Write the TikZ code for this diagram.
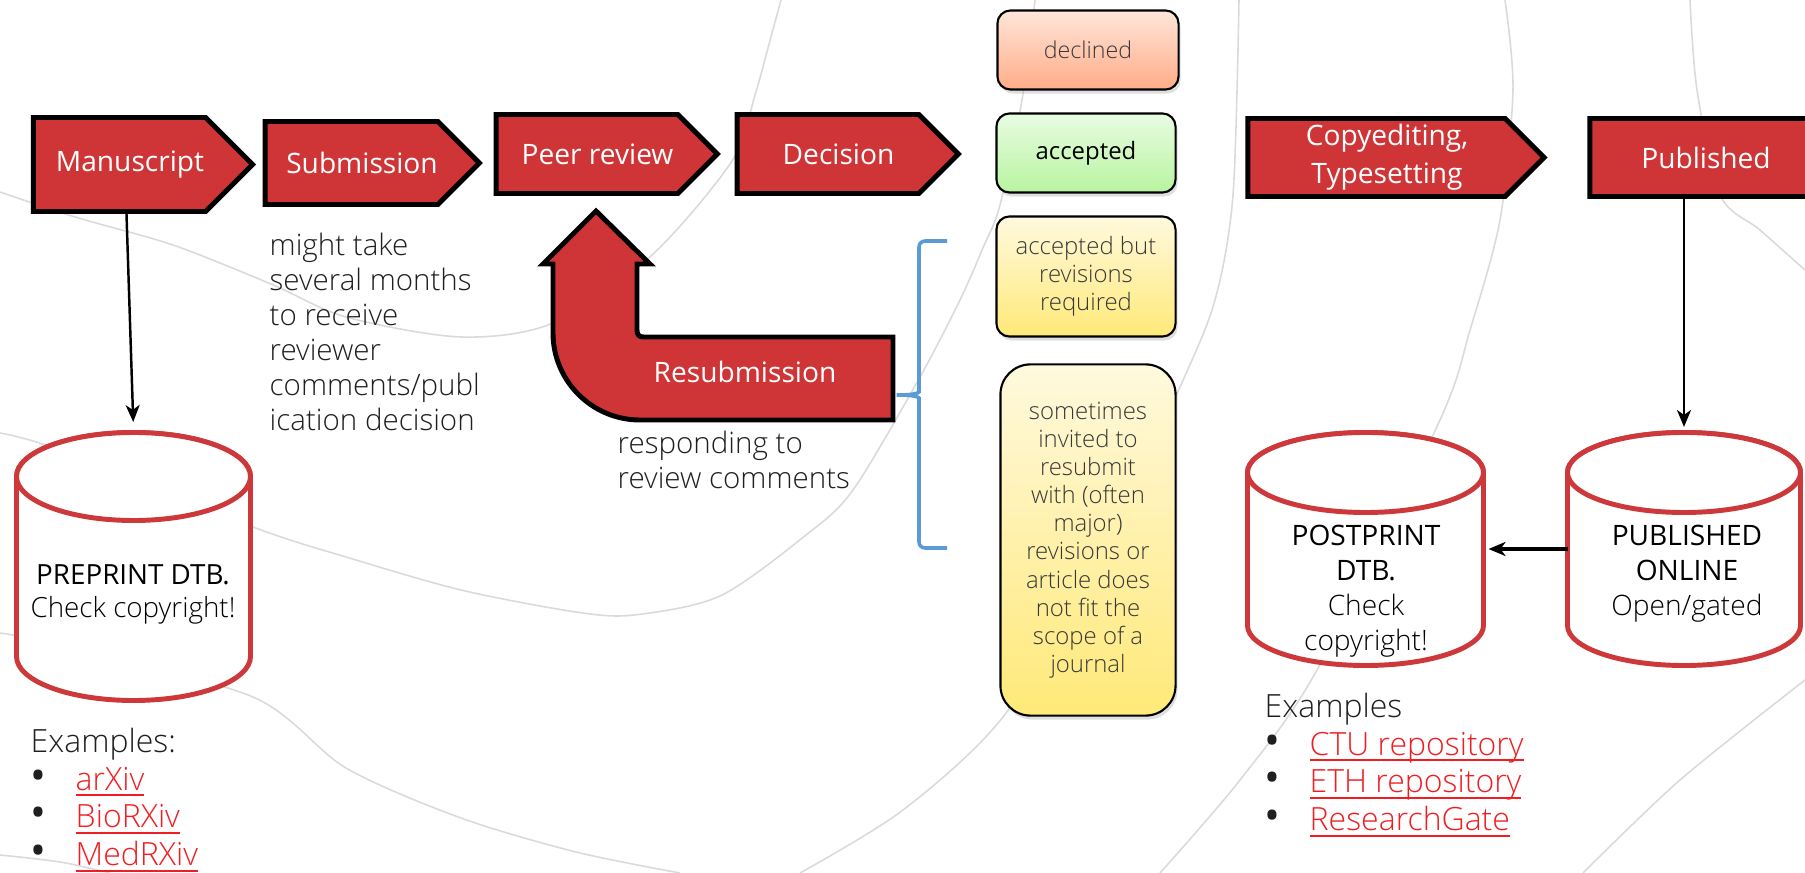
\documentclass[tikz,border=0pt]{standalone}
\usepackage{fontspec}
\setmainfont{Open Sans}
\newfontfamily\lightfont{Open Sans Light}
\usetikzlibrary{arrows.meta,shapes.symbols,shadows}

\definecolor{boxred}{RGB}{207,53,55}
\definecolor{dbred}{RGB}{205,56,58}
\definecolor{linkred}{RGB}{240,30,34}
\definecolor{bracecol}{RGB}{91,155,213}
\definecolor{bggrey}{RGB}{218,218,218}

\newcommand{\reflink}[1]{{\color{linkred}\underline{\smash{#1}}}}
\newcommand{\bul}{\makebox[0.45cm][l]{\normalfont\fontsize{12}{11}\selectfont\textbullet}}
\newcommand{\nudge}{\hspace*{0.21cm}}

\tikzset{
  stage/.style   = {signal, signal to=east, signal pointer angle=90, draw=black,
                    line width=1.4pt, fill=boxred, text=white, align=center,
                    inner sep=0pt, font=\fontsize{8}{10.8}\selectfont},
  outcome/.style = {rectangle, rounded corners=0.13cm, draw=black, line width=0.6pt,
                    align=center, text=black!78, inner sep=0pt,
                    font=\lightfont\fontsize{6.8}{8}\selectfont,
                    drop shadow={shadow xshift=0.02cm, shadow yshift=-0.04cm, opacity=0.25}},
  dbline/.style  = {draw=dbred, line width=1.4pt, fill=white},
  dbtext/.style  = {align=center, inner sep=0pt, font=\fontsize{8}{10}\selectfont},
  note/.style    = {align=left, inner sep=0pt, anchor=north west, text=black!88,
                    font=\lightfont\fontsize{8.4}{10}\selectfont},
  flow/.style    = {-{Stealth[length=0.17cm, width=0.14cm, inset=0.05cm]}, line width=0.7pt},
  bgline/.style  = {bggrey, line width=0.45pt},
}

\begin{document}
\begin{tikzpicture}[x=0.01cm, y=-0.01cm]
  \useasboundingbox (0,0) rectangle (1805,873);

  % faint background curves
  \draw[bgline] plot[smooth] coordinates {(0,192) (75,217) (173,245) (271,284) (346,317)
      (461,337) (553,323) (651,256) (732,161) (755,95) (772,33) (781,0)};
  \draw[bgline] plot[smooth] coordinates {(0,433) (60,450) (253,527) (346,557) (461,590)
      (576,612) (634,615) (720,596) (806,535) (853,490) (920,377) (960,300) (982,250)
      (1000,205) (1022,100) (1035,0)};
  \draw[bgline] plot[smooth] coordinates {(0,633) (60,645) (253,697) (346,768) (461,818)
      (576,852) (680,873)};
  \draw[bgline] plot[smooth] coordinates {(1239,0) (1233,195) (1215,300) (1180,387)
      (1100,560) (1003,717) (903,810) (800,873)};
  \draw[bgline] plot[smooth] coordinates {(1505,0) (1513,90) (1500,220) (1470,330)
      (1440,420) (1317,670) (1240,780) (1160,873)};
  \draw[bgline] plot[smooth] coordinates {(1690,0) (1697,90) (1720,195) (1760,230) (1805,270)};
  \draw[bgline] plot[smooth] coordinates {(1583,873) (1680,780) (1805,680)};
  \draw[bgline] plot[smooth] coordinates {(0,855) (60,862) (110,873)};

  % main flow
  \node[stage, minimum width=2.19cm, minimum height=0.94cm] (manu) at (119.5,164.5) {\nudge Manuscript};
  \node[stage, minimum width=2.14cm, minimum height=0.83cm] (sub)  at (351.5,163) {\nudge Submission};
  \node[stage, minimum width=2.21cm, minimum height=0.79cm] (peer) at (587,154)   {\nudge Peer review};
  \node[stage, minimum width=2.21cm, minimum height=0.79cm] (dec)  at (828,154)   {\nudge Decision};
  \node[stage, minimum width=2.96cm, minimum height=0.78cm] (copy) at (1376.5,157.5) {\nudge Copyediting,\\\nudge Typesetting};
  \node[stage, minimum width=2.71cm, minimum height=0.78cm] (pub)  at (1706,157.5) {Published};

  % resubmission loop
  \draw[line width=1.4pt, fill=boxred] (596,211) -- (650,264) -- (637,264) -- (637,330)
      .. controls (637,335) and (639,337) .. (644,337) -- (893,337) -- (893,420) -- (640,420)
      .. controls (592,420) and (553,381) .. (553,333) -- (553,264) -- (543,264) -- cycle;
  \node[text=white, font=\fontsize{8}{10}\selectfont] (resub) at (745,372) {Resubmission};
  \coordinate (bracetip) at (893,395);
  \draw[bracecol, line width=1pt, rounded corners=0.06cm] (947,241) -- (919,241) -- (919,386)
      .. controls (919,393) and (912,395) .. (bracetip)
      .. controls (912,395) and (919,397) .. (919,404) -- (919,548) -- (947,548);

  % decision outcomes
  \node[outcome, top color={rgb,255:red,255;green,230;blue,218}, bottom color={rgb,255:red,255;green,172;blue,135},
        minimum width=1.81cm, minimum height=0.79cm, font=\lightfont\fontsize{6.6}{8}\selectfont] (decl) at (1088,50) {declined};
  \node[outcome, top color={rgb,255:red,232;green,252;blue,226}, bottom color={rgb,255:red,184;green,244;blue,160},
        minimum width=1.79cm, minimum height=0.79cm, text=black,
        font=\fontsize{6.8}{8}\selectfont] (acc) at (1086,153) {accepted};
  \node[outcome, top color={rgb,255:red,255;green,249;blue,222}, bottom color={rgb,255:red,255;green,233;blue,120},
        minimum width=1.79cm, minimum height=1.20cm] (accrev) at (1086,276.5) {accepted but\\revisions\\required};
  \node[outcome, rounded corners=0.3cm, top color={rgb,255:red,255;green,249;blue,222}, bottom color={rgb,255:red,255;green,233;blue,120},
        minimum width=1.75cm, minimum height=3.51cm] (resubmit) at (1088,540)
        {sometimes\\invited to\\resubmit\\with (often\\major)\\revisions or\\article does\\not fit the\\scope of a\\journal};

  % databases (centre x / x radius / y radius / top cap y / bottom cap y)
  \foreach \cx/\rx/\ry/\yt/\yb in {133.5/117/44/476.5/656.5, 1365.5/118/40/472.5/625.5, 1684/116.5/40/472.5/625.5} {
    \path[dbline] (\cx-\rx,\yt) -- (\cx-\rx,\yb) arc[start angle=180, end angle=0, x radius=\rx, y radius=\ry]
        -- (\cx+\rx,\yt) arc[start angle=0, end angle=-180, x radius=\rx, y radius=\ry] -- cycle;
    \draw[dbline] (\cx,\yt) ellipse[x radius=\rx, y radius=\ry];
  }
  \coordinate (pretop)    at (133.5,430);
  \coordinate (posteast)  at (1483.5,549);
  \coordinate (onlinetop) at (1684,430);
  \coordinate (onlinewest) at (1567.5,549);

  \node[dbtext, font=\fontsize{7.9}{9.4}\selectfont] (pretxt) at (133,594) {PREPRINT DTB.\\{\lightfont Check copyright!}};
  \node[dbtext] (posttxt) at (1366,591) {POSTPRINT\\DTB.\\{\lightfont Check}\\{\lightfont copyright!}};
  \node[dbtext] (onlinetxt) at (1687,574) {PUBLISHED\\ONLINE\\{\lightfont Open/gated}};

  \draw[flow, shorten >=0.08cm] ([xshift=-0.07cm]manu.south -| pretop) -- (pretop);
  \draw[flow, shorten >=0.03cm] (pub.south -| onlinetop) -- (onlinetop);
  \draw[flow, line width=0.9pt, shorten >=0.05cm] (onlinewest) -- (posteast);

  % side notes
  \node[note] (delay) at (269,232) {might take\\several months\\to receive\\reviewer\\comments/publ\\ication decision};
  \node[note] (reply) at (617,430) {responding to\\review comments};
  \node[note, font=\lightfont\fontsize{9.1}{10.8}\selectfont] (preex) at (30,727)
      {Examples:\\\bul\reflink{arXiv}\\\bul\reflink{BioRXiv}\\\bul\reflink{MedRXiv}};
  \node[note, font=\lightfont\fontsize{9.1}{10.8}\selectfont] (postex) at (1264,692)
      {Examples\\\bul\reflink{CTU repository}\\\bul\reflink{ETH repository}\\\bul\reflink{ResearchGate}};
\end{tikzpicture}
\end{document}
